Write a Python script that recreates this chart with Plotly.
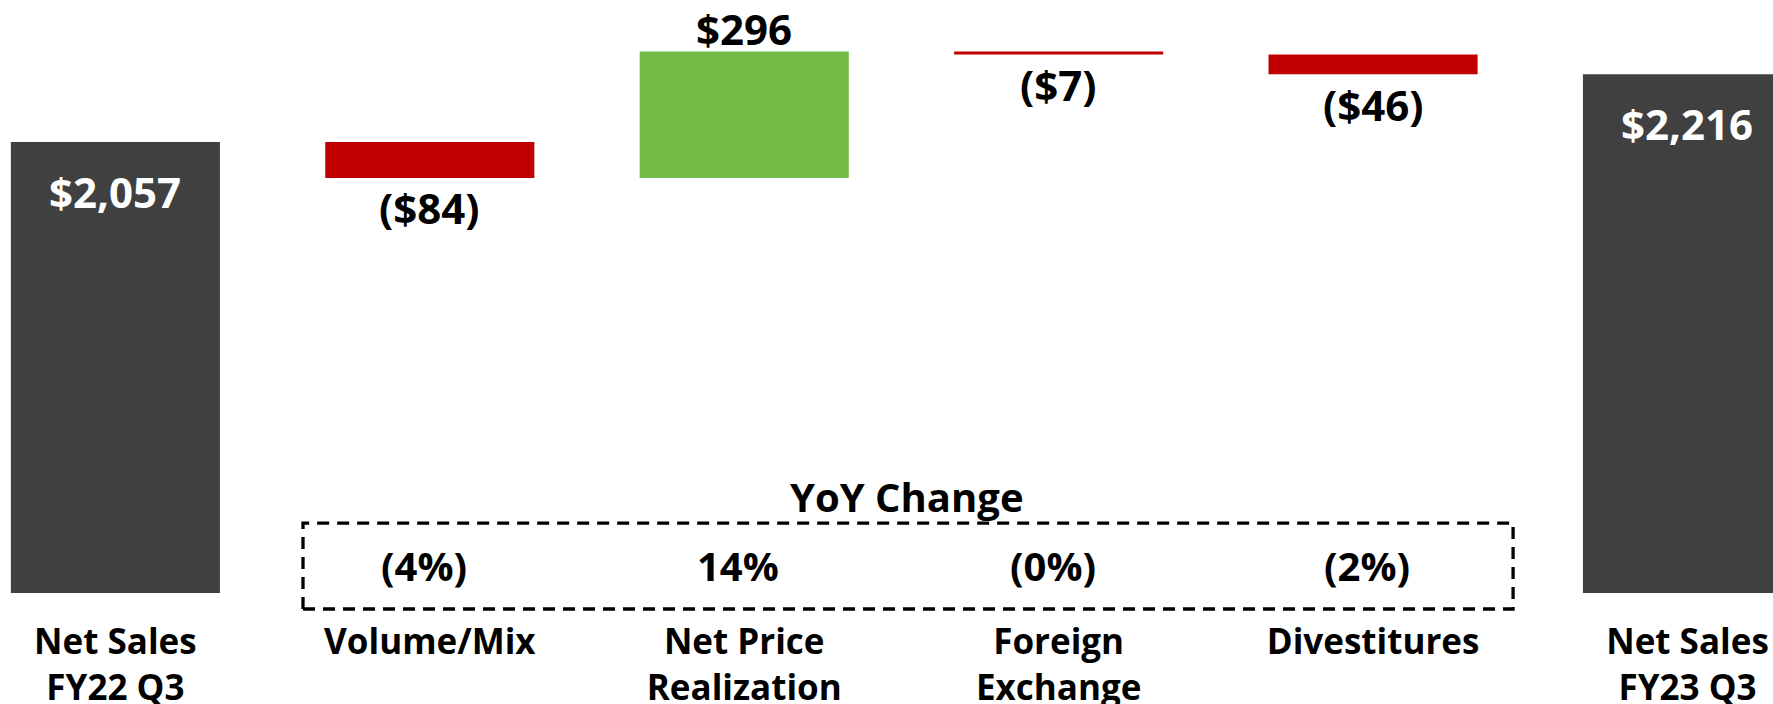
import plotly.graph_objects as go

categories = ["Net Sales<br>FY22 Q3", "Volume/Mix", "Net Price<br>Realization",
              "Foreign<br>Exchange", "Divestitures", "Net Sales<br>FY23 Q3"]
measures = ["absolute", "relative", "relative", "relative", "relative", "total"]
values = [2057, -84, 296, -7, -46, 2216]
value_labels = ["$2,057", "($84)", "$296", "($7)", "($46)", "$2,216"]
yoy_labels = ["", "(4%)", "14%", "(0%)", "(2%)", ""]

DARK = "#404040"
RED = "#C00000"
GREEN = "#72BB45"
FONT = "Open Sans"

fig = go.Figure()
fig.add_trace(go.Waterfall(
    x=categories, y=values, measure=measures,
    width=[0.665] * len(values),
    totals=dict(marker=dict(color=DARK, line=dict(width=0))),
    decreasing=dict(marker=dict(color=RED, line=dict(width=0))),
    increasing=dict(marker=dict(color=GREEN, line=dict(width=0))),
    connector=dict(visible=False),
    textposition="none",
    hoverinfo="skip",
))

# value labels, positioned from cumulative data
running = 0
for cat, m, v, lab in zip(categories, measures, values, value_labels):
    if m == "absolute":
        end = v
        running = v
    elif m == "total":
        end = running
    else:
        end = running + v
        running = end
    if m in ("absolute", "total"):
        fig.add_annotation(x=cat, y=end, text=lab, showarrow=False, yanchor="middle",
                           yshift=-49, font=dict(family=FONT, size=42, color="white", weight="bold"))
    elif v < 0:
        fig.add_annotation(x=cat, y=end, text=lab, showarrow=False, yanchor="middle",
                           yshift=-30, font=dict(family=FONT, size=42, color="black", weight="bold"))
    else:
        fig.add_annotation(x=cat, y=end, text=lab, showarrow=False, yanchor="middle",
                           yshift=23, font=dict(family=FONT, size=42, color="black", weight="bold"))

# YoY change box
fig.add_shape(type="rect", xref="paper", yref="paper", x0=0.1709, x1=0.8534, y0=-0.027, y1=0.118,
              line=dict(color="black", width=3.3, dash="12px,8px"), fillcolor="rgba(0,0,0,0)")
fig.add_annotation(xref="paper", yref="paper", x=0.5116, y=0.162, text="YoY Change", showarrow=False,
                   yanchor="middle", font=dict(family=FONT, size=40, color="black", weight="bold"))
for cat, lab in zip(categories, yoy_labels):
    if lab:
        fig.add_annotation(x=cat, xref="x", yref="paper", y=0.047, text=lab, showarrow=False,
                           yanchor="middle", xshift=-6,
                           font=dict(family=FONT, size=40, color="black", weight="bold"))

fig.update_layout(
    width=1773, height=704,
    margin=dict(l=0, r=0, t=0, b=111),
    paper_bgcolor="white", plot_bgcolor="white",
    showlegend=False,
    xaxis=dict(range=[-0.367, 5.272], showgrid=False, zeroline=False, showline=False,
               ticks="", ticklabelstandoff=25, automargin=False,
               tickfont=dict(family=FONT, size=35, color="black", weight="bold")),
    yaxis=dict(range=[1000, 2390], visible=False, showgrid=False, zeroline=False, automargin=False),
)

fig.write_html("out.html", config={"displayModeBar": False},
               post_script="document.body.style.margin='0';document.body.style.overflow='hidden';")
